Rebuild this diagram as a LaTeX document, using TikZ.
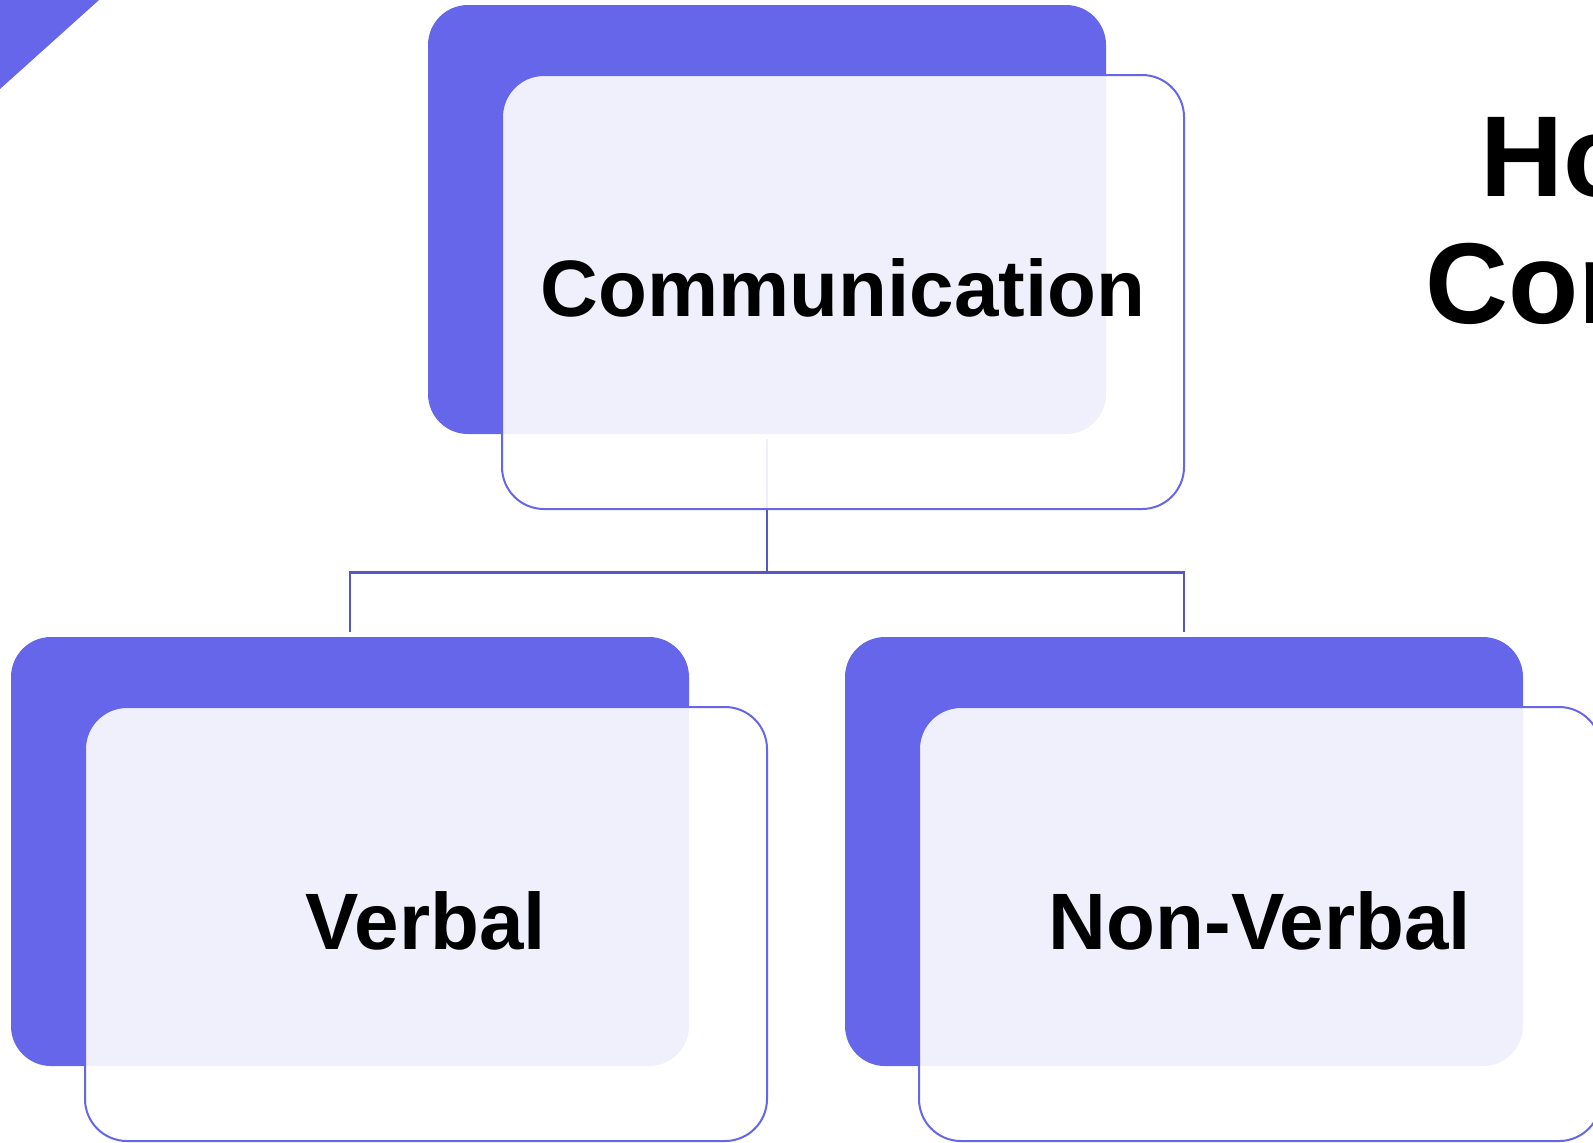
\documentclass[tikz,border=0pt]{standalone}
\usepackage{fontspec}
\setmainfont{Liberation Sans}
\definecolor{boxblue}{HTML}{6666EA}
\definecolor{linkblue}{HTML}{5656C4}
\begin{document}
\begin{tikzpicture}[x=0.5pt,y=-0.5pt,
  backbox/.style={rectangle, fill=boxblue, draw=none, rounded corners=20pt,
    minimum width=339pt, minimum height=214.5pt, inner sep=0pt},
  frontbox/.style={rectangle, fill=white, fill opacity=0.9, text opacity=1,
    draw=boxblue, draw opacity=1, line width=1pt, rounded corners=21pt,
    minimum width=341pt, minimum height=217pt, inner sep=0pt, text depth=4pt,
    font=\bfseries\fontsize{40pt}{48pt}\selectfont},
  link/.style={draw=linkblue, line width=1.2pt},
  titletext/.style={inner sep=0pt, anchor=base west,
    font=\bfseries\fontsize{57.5pt}{64pt}\selectfont}]
\useasboundingbox (0,0) rectangle (1593,1142);
\clip (0,0) rectangle (1593,1142);

% corner accent
\fill[boxblue] (0,0) -- (99,0) -- (0,89) -- cycle;

% back panels
\node[backbox] (cdark)  at (767,219.5) {};
\node[backbox] (vdark)  at (350,851.5) {};
\node[backbox] (nvdark) at (1184,851.5) {};

% tree connectors
\draw[link] ([yshift=-2.5pt]cdark.south) -- ++(0,133) -| ([yshift=2.5pt]vdark.north);
\draw[link] ([yshift=-2.5pt]cdark.south) -- ++(0,133) -| ([yshift=2.5pt]nvdark.north);

% front panels with labels
\node[frontbox] (comm)   at (843,292)  {Communication};
\node[frontbox] (verbal) at (426,924)  {Verbal};
\node[frontbox] (nonverbal) at (1260,924) {Non-Verbal};

% heading at the right edge
\node[titletext] (title1) at (1480,196) {Ho};
\node[titletext] (title2) at (1425,323) {Com};
\end{tikzpicture}
\end{document}
